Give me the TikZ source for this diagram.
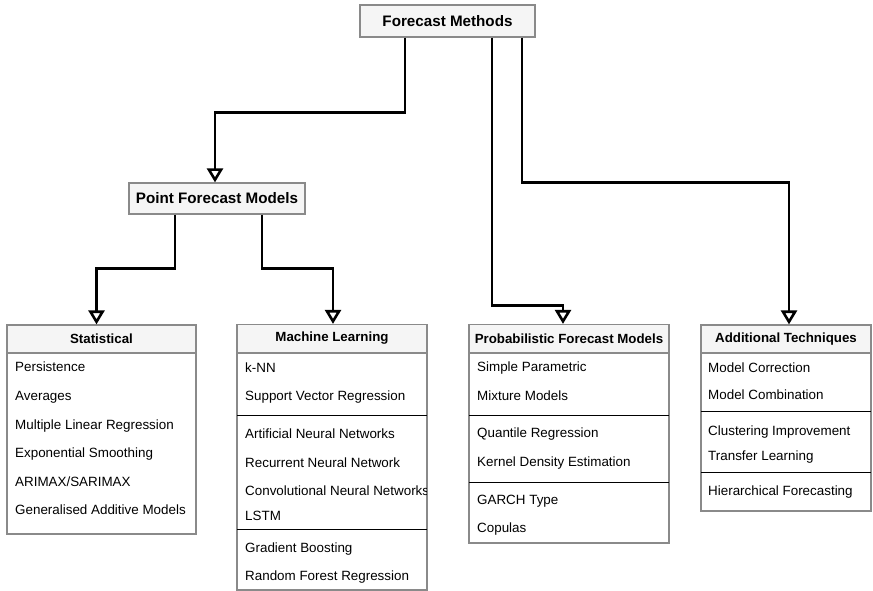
\documentclass[tikz,border=0pt]{standalone}
\usepackage{fontspec}
\setmainfont{Liberation Sans}
\usetikzlibrary{arrows.meta}

\definecolor{headfill}{HTML}{F5F5F5}
\definecolor{boxgray}{HTML}{8A8A8A}

\tikzset{
  title/.style={draw=boxgray, line width=1.2pt, fill=headfill, inner sep=0pt,
    font=\fontsize{15.2}{18}\selectfont\bfseries},
  head/.style={draw=boxgray, line width=1.2pt, fill=headfill, inner sep=0pt,
    minimum height=28pt, font=\fontsize{13.3}{15}\selectfont\bfseries},
  body/.style={draw=boxgray, line width=1.2pt, fill=white},
  item/.style={anchor=west, inner sep=0pt, text height=9.5pt, text depth=3pt,
    font=\fontsize{13.4}{15}\selectfont},
  divider/.style={black, line width=0.8pt},
  link/.style={line width=2.6pt, -{Triangle[length=14pt, width=16pt, fill=white]}},
}

\begin{document}
\begin{tikzpicture}[x=1pt, y=-1pt]
    \useasboundingbox (0,0) rectangle (873,591);

    % Top level
    \node[title, minimum width=175pt, minimum height=32pt] (fm) at (447.5,21) {Forecast Methods};
    \node[title, minimum width=176pt, minimum height=31pt] (pfm) at (217,198.5) {Point Forecast Models};

    % Statistical
    \draw[body] (7,353) rectangle (196,534);
    \node[head, minimum width=189pt] (stat) at (101.5,339) {Statistical};
    \foreach \y/\txt [count=\i] in {368/Persistence, 397/Averages, 426/Multiple Linear Regression,
        454/Exponential Smoothing, 483/{ARIMAX/SARIMAX}, 511/Generalised Additive Models}
        \node[item] (stat-\i) at (15,\y) {\txt};

    % Machine Learning
    \draw[body] (237,353) rectangle (427,590);
    \node[head, minimum width=190pt] (ml) at (332,338.5) {Machine Learning};
    \draw[divider] (237,415) -- (427,415);
    \draw[divider] (237,529) -- (427,529);
    \begin{scope}
        \clip (237,353) rectangle (426,590);
        \foreach \y/\txt [count=\i] in {369/k-NN, 397/Support Vector Regression,
            435/Artificial Neural Networks, 464/Recurrent Neural Network,
            492/Convolutional Neural Networks, 517/LSTM,
            549/Gradient Boosting, 577/Random Forest Regression}
            \node[item] (ml-\i) at (245,\y) {\txt};
    \end{scope}

    % Probabilistic
    \draw[body] (469,353) rectangle (669,543);
    \node[head, minimum width=200pt] (prob) at (569,338.5) {Probabilistic Forecast Models};
    \draw[divider] (469,415) -- (669,415);
    \draw[divider] (469,482) -- (669,482);
    \foreach \y/\txt [count=\i] in {368/Simple Parametric, 397/Mixture Models,
        434/Quantile Regression, 463/Kernel Density Estimation,
        501/GARCH Type, 529/Copulas}
        \node[item] (prob-\i) at (477,\y) {\txt};

    % Additional techniques
    \draw[body] (701,353) rectangle (871,511);
    \node[head, minimum width=170pt] (add) at (786,339) {Additional Techniques};
    \draw[divider] (701,411) -- (871,411);
    \draw[divider] (701,472) -- (871,472);
    \foreach \y/\txt [count=\i] in {369/Model Correction, 396/Model Combination,
        432/Clustering Improvement, 457/Transfer Learning,
        492/Hierarchical Forecasting}
        \node[item] (add-\i) at (708,\y) {\txt};

    % Connectors
    \draw[link] ([xshift=-42.5pt]fm.south) -- ++(0,75) -| ([xshift=-2pt]pfm.north);
    \draw[link] ([xshift=44.5pt]fm.south) -- ++(0,268) -| ([xshift=-6pt]prob.north);
    \draw[link] ([xshift=74.5pt]fm.south) -- ++(0,145) -| ([xshift=3pt]add.north);
    \draw[link] ([xshift=-42pt]pfm.south) -- ++(0,54) -| ([xshift=-5pt]stat.north);
    \draw[link] ([xshift=45pt]pfm.south) -- ++(0,54) -| ([xshift=1pt]ml.north);
\end{tikzpicture}
\end{document}
